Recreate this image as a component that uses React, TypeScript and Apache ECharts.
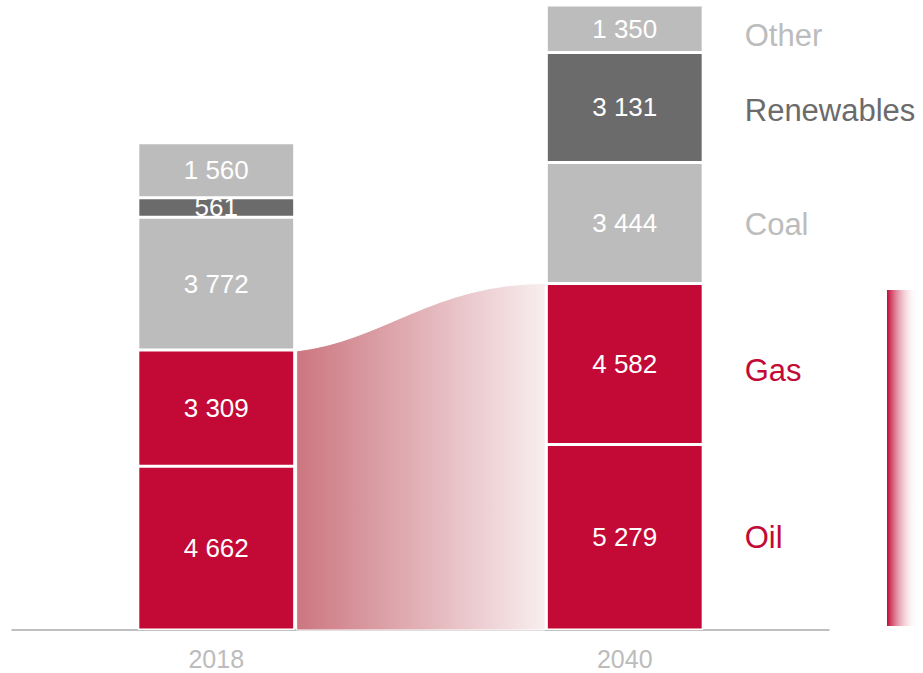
import React, { useEffect, useRef } from "react";
import * as echarts from "echarts";

const years = ["2018", "2040"];
const oil = [4662, 5279];
const gas = [3309, 4582];
const coal = [3772, 3444];
const renewables = [561, 3131];
const other = [1560, 1350];

const seriesNames = ["Oil", "Gas", "Coal", "Renewables", "Other"];
const seriesValues = [oil, gas, coal, renewables, other];
const seriesColors = ["#c30a36", "#c30a36", "#bcbcbc", "#6b6b6b", "#bcbcbc"];
const nameColors = ["#c30a36", "#c30a36", "#bcbcbc", "#6b6b6b", "#bcbcbc"];
const nameOffsetsY = [0, 7, 2, 3, 7];

const FONT = "Liberation Sans, Arial, sans-serif";
const BAR_FRAC = 0.384;

const fmt = (v: number) => String(v).replace(/\B(?=(\d{3})+(?!\d))/g, " ");

export default function App() {
  const ref = useRef<HTMLDivElement>(null);

  useEffect(() => {
    if (!ref.current) return;
    const chart = echarts.init(ref.current, null, { renderer: "svg" });

    const totals = years.map((_, i) => seriesValues.reduce((s, arr) => s + arr[i], 0));
    const yMax = Math.max(...totals);

    const barSeries = seriesNames.map((name, k) => ({
      name,
      type: "bar",
      stack: "total",
      barWidth: BAR_FRAC * 100 + "%",
      z: 3,
      itemStyle: { color: seriesColors[k], borderColor: "#ffffff", borderWidth: 1.5 },
      label: {
        show: true,
        position: "inside",
        color: "#ffffff",
        fontSize: 26,
        fontFamily: FONT,
        formatter: (p: any) => fmt(p.value),
      },
      data: seriesValues[k],
    }));

    const lastIdx = years.length - 1;
    let cum = 0;
    const nameData = seriesNames.map((name, k) => {
      const v = seriesValues[k][lastIdx];
      const mid = cum + v / 2;
      cum += v;
      return { value: [lastIdx, mid], name, color: nameColors[k], dy: nameOffsetsY[k] };
    });

    const flowTop0 = oil[0] + gas[0];
    const flowTop1 = oil[1] + gas[1];

    chart.setOption({
      animation: false,
      grid: { left: 12, right: 94, top: 5, bottom: 43 },
      xAxis: {
        type: "category",
        data: years,
        axisLine: { lineStyle: { color: "#aaaaaa", width: 1.5 } },
        axisTick: { show: false },
        axisLabel: { color: "#bcbcbc", fontSize: 25, fontFamily: FONT, margin: 16, lineHeight: 26 },
      },
      yAxis: {
        type: "value",
        min: 0,
        max: yMax,
        show: false,
        splitLine: { show: false },
      },
      series: [
        {
          type: "custom",
          z: 1,
          silent: true,
          encode: { x: [0, 2], y: [1, 3] },
          data: [[0, flowTop0, 1, flowTop1]],
          renderItem: (params: any, api: any) => {
            const band = api.size([1, 0])[0];
            const half = (band * BAR_FRAC) / 2;
            const a = api.coord([api.value(0), api.value(1)]);
            const b = api.coord([api.value(2), api.value(3)]);
            const base = api.coord([0, 0])[1];
            const x0 = a[0] + half + 2;
            const x1 = b[0] - half - 1;
            const y0 = a[1] + 1;
            const y1 = b[1];
            const w = x1 - x0;
            const dy = y0 - y1;
            const d =
              `M${x0},${base} L${x0},${y0} ` +
              `C${x0 + w * 0.35},${y0 - dy * 0.15} ${x1 - w * 0.45},${y1} ${x1},${y1} ` +
              `L${x1},${base} Z`;
            return {
              type: "path",
              shape: { pathData: d },
              style: {
                fill: new echarts.graphic.LinearGradient(0, 0, 1, 0, [
                  { offset: 0, color: "#cc7680" },
                  { offset: 1, color: "#f8eeef" },
                ]),
                stroke: "#ffffff",
                lineWidth: 1,
              },
            };
          },
        },
        ...barSeries,
        {
          type: "scatter",
          z: 5,
          symbolSize: 0,
          silent: true,
          itemStyle: { opacity: 1 },
          data: nameData.map((d) => ({
            value: d.value,
            name: d.name,
            label: {
              show: true,
              position: "right",
              distance: 120,
              offset: [0, d.dy],
              color: d.color,
              opacity: 1,
              fontSize: 31,
              fontFamily: FONT,
              formatter: d.name,
            },
          })),
        },
      ],
      graphic: [
        {
          type: "rect",
          right: 5,
          top: 290,
          shape: { width: 31, height: 336 },
          style: {
            fill: new echarts.graphic.LinearGradient(0, 0, 1, 0, [
              { offset: 0, color: "#c30a36" },
              { offset: 1, color: "rgba(255,255,255,0)" },
            ]),
          },
        },
      ],
    });

    return () => chart.dispose();
  }, []);

  return (
    <div
      ref={ref}
      style={{ position: "fixed", left: 0, top: 0, width: 923, height: 673, background: "#ffffff" }}
    />
  );
}
